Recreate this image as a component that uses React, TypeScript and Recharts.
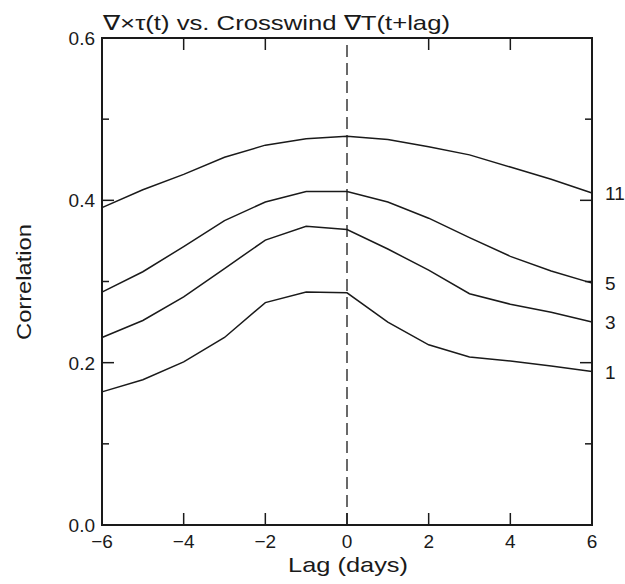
import { LineChart, Line, XAxis, YAxis, ReferenceLine } from "recharts";

const lags = [-6, -5, -4, -3, -2, -1, 0, 1, 2, 3, 4, 5, 6];
const curve11 = [0.391, 0.413, 0.432, 0.453, 0.468, 0.476, 0.479, 0.475, 0.466, 0.456, 0.441, 0.426, 0.409];
const curve5 = [0.287, 0.312, 0.343, 0.375, 0.398, 0.411, 0.411, 0.398, 0.378, 0.354, 0.331, 0.313, 0.298];
const curve3 = [0.231, 0.252, 0.281, 0.316, 0.351, 0.368, 0.364, 0.34, 0.314, 0.285, 0.272, 0.262, 0.25];
const curve1 = [0.164, 0.179, 0.201, 0.231, 0.274, 0.287, 0.286, 0.25, 0.222, 0.207, 0.202, 0.196, 0.189];
const seriesNames = ["11", "5", "3", "1"];
const xTicks = [-6, -4, -2, 0, 2, 4, 6];
const yTicks = [0, 0.1, 0.2, 0.3, 0.4, 0.5, 0.6];
const yLabels = [0, 0.2, 0.4, 0.6];

const data = lags.map((lag, i) => ({
  lag,
  s11: curve11[i],
  s5: curve5[i],
  s3: curve3[i],
  s1: curve1[i],
}));

const FONT = "'Liberation Sans', Arial, sans-serif";
const INK = "#1a1a1a";

// chart layout (plot box = left 102, top 38, right 592, bottom 525)
const W = 625;
const H = 584;
const M = { top: 37, right: 32, left: 0, bottom: 0 };
const Y_AXIS_W = 102;
const X_AXIS_H = 59;
const plotLeft = M.left + Y_AXIS_W;
const plotTop = M.top + 1;
const plotRight = W - M.right - 1;
const plotBottom = H - M.bottom - X_AXIS_H;
const FRAME = 2;

const isMajor = (v: number) => yLabels.some((l) => Math.abs(l - v) < 1e-6);

function BottomTick(props: any) {
  const { x, y, payload } = props;
  const v = payload.value;
  const txt = v < 0 ? "\u2212" + Math.abs(v) : String(v);
  return (
    <g>
      {v !== -6 && v !== 6 && <line x1={x} x2={x} y1={y} y2={y - 12} stroke={INK} strokeWidth={1.5} />}
      <text x={x} y={y + 23} textAnchor="middle" fontSize={19} fontFamily={FONT} fill={INK}>
        {txt}
      </text>
    </g>
  );
}

function TopTick(props: any) {
  const { x, y, payload } = props;
  const v = payload.value;
  if (v === -6 || v === 6 || v === 0) return <g />;
  return <line x1={x} x2={x} y1={y} y2={y + 12} stroke={INK} strokeWidth={1.5} />;
}

function LeftTick(props: any) {
  const { x, y, payload } = props;
  const v = payload.value;
  const major = isMajor(v);
  const edge = v === 0 || Math.abs(v - 0.6) < 1e-6;
  return (
    <g>
      {!edge && <line x1={x} x2={x + (major ? 12 : 7)} y1={y} y2={y} stroke={INK} strokeWidth={1.5} />}
      {major && (
        <text x={x - 7} y={y + 7} textAnchor="end" fontSize={19} fontFamily={FONT} fill={INK}>
          {v.toFixed(1)}
        </text>
      )}
    </g>
  );
}

function RightTick(props: any) {
  const { x, y, payload } = props;
  const v = payload.value;
  const major = isMajor(v);
  const edge = v === 0 || Math.abs(v - 0.6) < 1e-6;
  if (edge) return <g />;
  return <line x1={x} x2={x - (major ? 12 : 7)} y1={y} y2={y} stroke={INK} strokeWidth={1.5} />;
}

function endLabel(name: string) {
  return (props: any) => {
    const { x, y, index } = props;
    if (index !== lags.length - 1) return <g />;
    return (
      <text x={x + 13} y={y + 7} fontSize={19} fontFamily={FONT} fill={INK}>
        {name}
      </text>
    );
  };
}

export default function App() {
  const keys = ["s11", "s5", "s3", "s1"];
  return (
    <div style={{ position: "absolute", left: 0, top: 0, width: W, height: H, background: "#fff" }}>
      <LineChart width={W} height={H} data={data} margin={M}>
        <XAxis
          dataKey="lag"
          type="number"
          domain={[-6, 6]}
          ticks={xTicks}
          interval={0}
          height={X_AXIS_H}
          tickSize={0}
          tickMargin={0}
          tick={<BottomTick />}
          axisLine={false}
          tickLine={false}
        />
        <XAxis
          xAxisId="top"
          dataKey="lag"
          type="number"
          orientation="top"
          domain={[-6, 6]}
          ticks={xTicks}
          interval={0}
          height={1}
          tickSize={0}
          tickMargin={0}
          tick={<TopTick />}
          axisLine={false}
          tickLine={false}
        />
        <YAxis
          type="number"
          domain={[0, 0.6]}
          ticks={yTicks}
          interval={0}
          width={Y_AXIS_W}
          tickSize={0}
          tickMargin={0}
          tick={<LeftTick />}
          axisLine={false}
          tickLine={false}
        />
        <YAxis
          yAxisId="right"
          type="number"
          orientation="right"
          domain={[0, 0.6]}
          ticks={yTicks}
          interval={0}
          width={1}
          tickSize={0}
          tickMargin={0}
          tick={<RightTick />}
          axisLine={false}
          tickLine={false}
        />
        <ReferenceLine x={0} stroke={INK} strokeWidth={1.3} strokeDasharray="12 6" />
        {keys.map((k, i) => (
          <Line
            key={k}
            dataKey={k}
            type="linear"
            stroke={INK}
            strokeWidth={1.5}
            dot={false}
            activeDot={false}
            isAnimationActive={false}
            label={endLabel(seriesNames[i])}
          />
        ))}
        {/* invisible copy so the top/right tick axes get drawn */}
        <Line
          xAxisId="top"
          yAxisId="right"
          dataKey="s1"
          stroke="none"
          strokeOpacity={0}
          dot={false}
          activeDot={false}
          isAnimationActive={false}
          legendType="none"
        />
      </LineChart>
      {/* plot frame as a plain bordered box */}
      <div
        style={{
          position: "absolute",
          boxSizing: "border-box",
          left: plotLeft - FRAME / 2,
          top: plotTop - FRAME / 2,
          width: plotRight - plotLeft + FRAME,
          height: plotBottom - plotTop + FRAME,
          border: `${FRAME}px solid ${INK}`,
          pointerEvents: "none",
        }}
      />
      <svg width={W} height={H} style={{ position: "absolute", left: 0, top: 0, pointerEvents: "none" }}>
        <text x={103} y={30} fontSize={21} fontFamily={FONT} fill={INK} textLength={347} lengthAdjust="spacingAndGlyphs">
          ∇×τ(t) vs. Crosswind ∇T(t+lag)
        </text>
        <text x={348} y={572} textAnchor="middle" fontSize={21} fontFamily={FONT} fill={INK} textLength={120} lengthAdjust="spacingAndGlyphs">
          Lag (days)
        </text>
        <text
          x={0}
          y={0}
          transform="translate(31,282) rotate(-90)"
          textAnchor="middle"
          fontSize={21}
          fontFamily={FONT}
          fill={INK}
          textLength={116}
          lengthAdjust="spacingAndGlyphs"
        >
          Correlation
        </text>
      </svg>
    </div>
  );
}
